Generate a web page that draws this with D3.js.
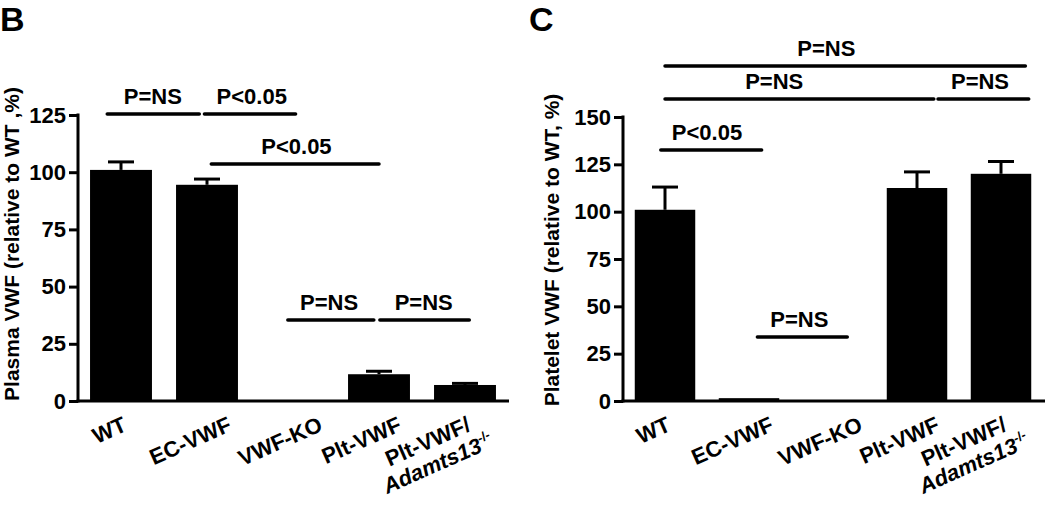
<!DOCTYPE html>
<html>
<head>
<meta charset="utf-8">
<script src="https://cdn.jsdelivr.net/npm/d3@7"></script>
<style>
  html, body { margin: 0; padding: 0; background: #fff; }
  svg { display: block; }
  text { font-family: "Liberation Sans", Arial, Helvetica, sans-serif; font-weight: bold; fill: #000; }
</style>
</head>
<body>
<svg id="chart" width="1050" height="505"></svg>
<script>
// ---------- data ----------
const categories = ["WT", "EC-VWF", "VWF-KO", "Plt-VWF", "Plt-VWF/Adamts13-/-"];

// Panel B: plasma VWF (relative to WT, %)
const plasmaMean = [101, 94.5, 0, 11.7, 7];
const plasmaErr  = [3.5, 2.5, 0, 1.3, 0.7];
const plasmaTicks = [0, 25, 50, 75, 100, 125];

// Panel C: platelet VWF (relative to WT, %)
const plateletMean = [101, 1.5, 0, 112.5, 120];
const plateletErr  = [12, 0, 0, 8.5, 6.5];
const plateletTicks = [0, 25, 50, 75, 100, 125, 150];

// significance brackets: from/to/label position in category units (0 = first category centre), level in data units
const plasmaSig = [
  { from: -0.16, to: 0.91, at: 0.37, level: 125.4, label: "P=NS" },
  { from: 0.97, to: 2.03, at: 1.52, level: 125.4, label: "P<0.05" },
  { from: 1.05, to: 3.0, at: 2.04, level: 103.6, label: "P<0.05" },
  { from: 1.94, to: 2.94, at: 2.42, level: 35.4, label: "P=NS" },
  { from: 3.01, to: 4.05, at: 3.52, level: 35.4, label: "P=NS" }
];
const plateletSig = [
  { from: 0, to: 4.29, at: 1.92, level: 177, label: "P=NS" },
  { from: 0, to: 3.2, at: 1.3, level: 159.5, label: "P=NS" },
  { from: 3.25, to: 4.33, at: 3.75, level: 159.5, label: "P=NS" },
  { from: -0.05, to: 1.15, at: 0.5, level: 132.6, label: "P<0.05" },
  { from: 1.1, to: 2.17, at: 1.6, level: 33.8, label: "P=NS" }
];

// ---------- layout ----------
const svg = d3.select("#chart");
const labelShift = [7, 26, 31, 24, 7];   // per-label horizontal nudge of rotated tick labels
const FS = 22;

function panel(opts) {
  const g = svg.append("g");
  const x = d3.scaleBand().domain(categories).range([opts.x0, opts.x1])
    .paddingInner(0.28).paddingOuter(0.14);
  const y = d3.scaleLinear().domain([0, opts.ymax]).range([opts.yBottom, opts.yTop]);
  const step = x.step();
  const cx = i => x(categories[i]) + x.bandwidth() / 2;
  const pos = t => cx(0) + t * step;

  // bars
  g.selectAll("rect.bar").data(opts.mean).enter().append("rect")
    .attr("x", (d, i) => x(categories[i]))
    .attr("width", x.bandwidth())
    .attr("y", d => y(d))
    .attr("height", d => y(0) - y(d))
    .attr("fill", "#000");

  // error bars (upper only)
  const capW = 13;
  opts.mean.forEach((m, i) => {
    const e = opts.err[i];
    if (e <= 0) return;
    g.append("line").attr("x1", cx(i)).attr("x2", cx(i))
      .attr("y1", y(m)).attr("y2", y(m + e))
      .attr("stroke", "#000").attr("stroke-width", 3);
    g.append("line").attr("x1", cx(i) - capW).attr("x2", cx(i) + capW)
      .attr("y1", y(m + e)).attr("y2", y(m + e))
      .attr("stroke", "#000").attr("stroke-width", 3);
  });

  // y axis
  const yAxis = d3.axisLeft(y).tickValues(opts.ticks).tickSize(9).tickPadding(3).tickFormat(d3.format("d"));
  const ya = g.append("g").attr("transform", `translate(${opts.x0},0)`).call(yAxis);
  ya.select(".domain").remove();
  ya.selectAll(".tick line").attr("stroke", "#000").attr("stroke-width", 3);
  ya.selectAll(".tick text").attr("font-size", FS).attr("font-family", "Liberation Sans, Arial, sans-serif")
    .attr("font-weight", "bold").attr("fill", "#000");
  g.append("line").attr("x1", opts.x0).attr("x2", opts.x0)
    .attr("y1", y(opts.ymax) - 1.5).attr("y2", y(0) + 1.5)
    .attr("stroke", "#000").attr("stroke-width", 3);

  // x axis
  const xAxis = d3.axisBottom(x).tickSize(0).tickFormat("");
  const xa = g.append("g").attr("transform", `translate(0,${y(0)})`).call(xAxis);
  xa.select(".domain").attr("stroke", "#000").attr("stroke-width", 3)
    .attr("d", `M${opts.x0 - 1.5},0H${opts.xAxisEnd}`);

  // rotated category labels
  categories.forEach((c, i) => {
    const lg = g.append("g")
      .attr("transform", `translate(${cx(i) + labelShift[i]},${y(0) + 29}) rotate(-24)`);
    if (c.indexOf("/Adamts13") >= 0) {
      lg.append("text").attr("text-anchor", "end").attr("font-size", FS).text("Plt-VWF/");
      const t2 = lg.append("text").attr("text-anchor", "end").attr("font-size", FS)
        .attr("x", 14).attr("y", 24);
      t2.append("tspan").attr("font-style", "italic").text("Adamts13");
      t2.append("tspan").attr("font-size", 13).attr("dy", -9).text("-/-");
    } else {
      lg.append("text").attr("text-anchor", "end").attr("font-size", FS).text(c);
    }
  });

  // significance brackets
  opts.sig.forEach(s => {
    g.append("line").attr("x1", pos(s.from)).attr("x2", pos(s.to))
      .attr("y1", y(s.level)).attr("y2", y(s.level))
      .attr("stroke", "#000").attr("stroke-width", 3.5).attr("stroke-linecap", "round");
    g.append("text").attr("x", pos(s.at)).attr("y", y(s.level) - 10)
      .attr("text-anchor", "middle").attr("font-size", FS).text(s.label);
  });

  // y label
  g.append("text")
    .attr("transform", `translate(${opts.ylabX},${opts.ylabY}) rotate(-90)`)
    .attr("text-anchor", "middle").attr("font-size", 21).text(opts.ylabel);

  // panel letter
  g.append("text").attr("x", opts.letterX).attr("y", 31).attr("font-size", 34).text(opts.letter);
}

panel({
  x0: 78, x1: 508, xAxisEnd: 509, yBottom: 401, yTop: 115, ymax: 125,
  mean: plasmaMean, err: plasmaErr, ticks: plasmaTicks, sig: plasmaSig,
  ylabel: "Plasma VWF (relative to WT ,%)", ylabX: 19, ylabY: 244,
  letter: "B", letterX: 0
});
panel({
  x0: 623, x1: 1043, xAxisEnd: 1045, yBottom: 401, yTop: 117, ymax: 150,
  mean: plateletMean, err: plateletErr, ticks: plateletTicks, sig: plateletSig,
  ylabel: "Platelet VWF (relative to WT, %)", ylabX: 559, ylabY: 250,
  letter: "C", letterX: 529
});
</script>
</body>
</html>
